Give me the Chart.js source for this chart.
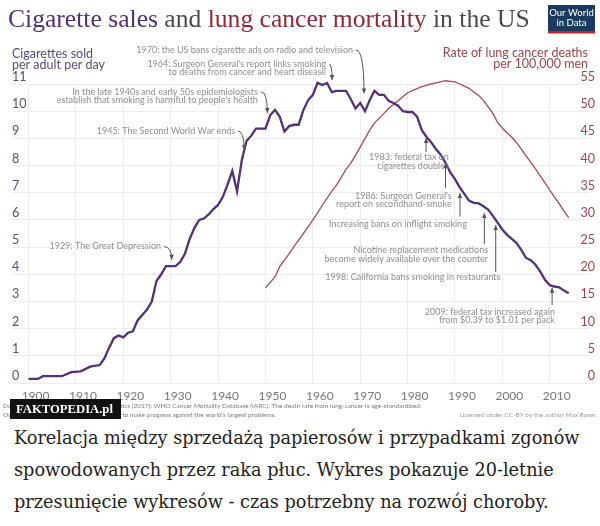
<!DOCTYPE html>
<html>
<head>
<meta charset="utf-8">
<script src="https://cdn.jsdelivr.net/npm/chart.js@4/dist/chart.umd.min.js"></script>
<style>
  body { margin: 0; background: #fff; width: 600px; height: 526px; overflow: hidden; }
  #wrap { position: relative; width: 600px; height: 422px; }
  #caption {
    margin: 0; padding: 0 0 0 14px;
    font-family: "DejaVu Serif", serif; font-size: 17.7px; line-height: 32px; color: #222;
  }
</style>
</head>
<body>
<div id="wrap"><canvas id="chart" width="600" height="422"></canvas></div>
<p id="caption">Korelacja między sprzedażą papierosów i przypadkami zgonów spowodowanych przez raka płuc. Wykres pokazuje 20-letnie przesunięcie wykresów - czas potrzebny na rozwój choroby.</p>

<script>
// cigarettes sold per adult per day (left axis)
var cigYears = [1900,1902,1903,1907,1909,1911,1913,1915,1916,1917,1918,1919,1920,1921,1922,1923,1924,1925,1926,1927,1928,1929,1930,1931,1932,1933,1934,1935,1936,1937,1938,1939,1940,1941,1942,1943,1944,1945,1946,1947,1948,1949,1950,1951,1952,1953,1954,1955,1956,1957,1958,1959,1960,1961,1962,1963,1964,1965,1966,1967,1968,1969,1970,1971,1972,1973,1974,1975,1976,1977,1978,1979,1980,1981,1982,1983,1984,1985,1986,1987,1988,1989,1990,1991,1992,1993,1994,1995,1996,1997,1998,1999,2000,2001,2002,2003,2004,2005,2006,2007,2008,2009,2010,2011,2012,2013,2014];
var cigs = [0.15,0.15,0.25,0.25,0.4,0.43,0.6,0.66,0.9,1.3,1.65,1.75,1.68,1.85,1.9,2.3,2.5,2.7,3.0,3.75,4.0,4.3,4.3,4.3,4.45,4.75,5.3,5.7,6.0,6.05,6.2,6.4,6.55,6.85,7.3,7.8,7.05,8.2,8.9,9.1,9.36,9.36,9.36,9.85,10.05,9.8,9.25,9.45,9.5,9.5,10.04,10.4,10.6,11.04,10.96,11.04,10.7,10.75,10.75,10.75,10.45,10.1,10.3,10.0,10.4,10.75,10.6,10.6,10.38,10.3,10.2,10.0,9.97,9.97,9.8,9.3,9.05,8.85,8.6,8.4,8.1,7.75,7.5,7.2,6.95,6.7,6.63,6.61,6.5,6.38,6.15,5.9,5.65,5.45,5.3,5.15,4.9,4.6,4.52,4.35,4.1,3.8,3.6,3.55,3.52,3.4,3.3];

// lung cancer deaths per 100,000 men (right axis)
var cancerYears = [1950,1952,1953,1955,1956,1958,1959,1961,1962,1964,1965,1967,1968,1970,1972,1973,1975,1976,1978,1980,1981,1983,1985,1986,1988,1989,1990,1991,1992,1993,1994,1995,1996,1997,1998,1999,2000,2001,2002,2003,2004,2005,2006,2007,2008,2009,2010,2011,2012,2013,2014];
var cancer = [17.5,19.5,21.4,23.8,25.1,27.5,28.7,31.3,32.7,35.3,36.4,39.3,40.4,43.4,46.5,47.8,49.6,50.5,51.9,53.4,53.8,54.5,55.0,55.2,55.6,55.5,55.4,55.0,54.6,54.2,53.5,52.9,52.0,50.8,49.6,47.9,46.9,46.0,45.2,44.2,43.0,41.8,40.6,39.4,38.1,36.8,35.5,34.2,33.0,31.6,30.4];

var xTicks = [1900,1910,1920,1930,1940,1950,1960,1970,1980,1990,2000,2010];
var leftTicks = [0,1,2,3,4,5,6,7,8,9,10,11];
var rightTicks = [0,5,10,15,20,25,30,35,40,45,50,55];

// annotation texts; text anchor (right end, first line) and arrow tail/tip in data units
var notes = [
  { lines: ["1970: the US bans cigarette ads on radio and television"], at: [1968.5, 12.25], tail: [1969.1, 12.25], tip: [1970.8, 10.65] },
  { lines: ["1964: Surgeon General's report links smoking", "to deaths from cancer and heart disease"], at: [1962.8, 11.75], tail: [1963.4, 11.74], tip: [1964.05, 11.15] },
  { lines: ["In the late 1940s and early 50s epidemiologists", "establish that smoking is harmful to people's health"], at: [1948.4, 10.71], tail: [1949.05, 10.71], tip: [1950.4, 9.93] },
  { lines: ["1945: The Second World War ends"], at: [1943.6, 9.27], tail: [1944.2, 9.27], tip: [1945.5, 8.57] },
  { lines: ["1929: The Great Depression"], at: [1927.95, 5.02], tail: [1928.6, 5.02], tip: [1930.2, 4.53] },
  { lines: ["1983: federal tax on", "cigarettes doubles"], at: [1988.7, 8.31], tail: [1983.9, 8.5], tip: [1983.9, 9.01] },
  { lines: ["1986: Surgeon General's", "report on secondhand-smoke"], at: [1989.3, 6.88], tail: [1988.0, 7.17], tip: [1988.0, 8.09] },
  { lines: ["Increasing bans on inflight smoking"], at: [1992.5, 5.84], tail: [1991.05, 6.12], tip: [1991.05, 6.99] },
  { lines: ["Nicotine replacement medications", "become widely available over the counter"], at: [1997.0, 4.89], tail: [1996.2, 5.11], tip: [1996.2, 6.25] },
  { lines: ["1998: California bans smoking in restaurants"], at: [1999.6, 3.91], tail: [1998.6, 4.08], tip: [1998.6, 5.81] },
  { lines: ["2009: federal tax increased again", "from $0.39 to $1.01 per pack"], at: [2011.1, 2.62], tail: [2010.5, 2.87], tip: [2010.5, 3.5] }
];

var purple = '#52307a';
var red = '#a84a54';

function arrow(ctx, x0, y0, x1, y1) {
  var cx = x1, cy = y0;
  var straight = Math.abs(x1 - x0) < 1;
  ctx.beginPath();
  ctx.moveTo(x0, y0);
  if (straight) ctx.lineTo(x1, y1);
  else ctx.quadraticCurveTo(cx, cy, x1, y1);
  ctx.stroke();
  var fx = straight ? x0 : cx, fy = straight ? y0 : cy;
  var a = Math.atan2(y1 - fy, x1 - fx);
  ctx.beginPath();
  ctx.moveTo(x1, y1);
  ctx.lineTo(x1 - 5 * Math.cos(a) + 2.3 * Math.sin(a), y1 - 5 * Math.sin(a) - 2.3 * Math.cos(a));
  ctx.lineTo(x1 - 5 * Math.cos(a) - 2.3 * Math.sin(a), y1 - 5 * Math.sin(a) + 2.3 * Math.cos(a));
  ctx.closePath();
  ctx.fill();
}

var extras = {
  id: 'extras',
  afterDraw: function(chart) {
    var ctx = chart.ctx;
    var sx = chart.scales.x, sy = chart.scales.y;
    ctx.save();

    // title, fitted to its width
    var parts = [["Cigarette sales ", purple], ["and ", '#4a4a4a'], ["lung cancer mortality ", '#8e2a36'], ["in the US", '#4a4a4a']];
    var size = 26;
    ctx.font = size + 'px "Liberation Serif"';
    var w = 0;
    parts.forEach(function(p) { w += ctx.measureText(p[0]).width; });
    size = size * 522 / w;
    ctx.font = size + 'px "Liberation Serif"';
    ctx.textBaseline = 'alphabetic';
    ctx.textAlign = 'left';
    var x = 8;
    parts.forEach(function(p) {
      ctx.fillStyle = p[1];
      ctx.fillText(p[0], x, 27);
      x += ctx.measureText(p[0]).width;
    });

    // OWID logo
    ctx.fillStyle = '#1b3a5f';
    ctx.fillRect(548, 5, 47, 28);
    ctx.fillStyle = '#c8202e';
    ctx.fillRect(548, 31, 47, 2.5);
    ctx.fillStyle = '#fff';
    ctx.font = '9.5px Lato';
    ctx.textAlign = 'center';
    ctx.textBaseline = 'middle';
    ctx.fillText('Our World', 571.5, 13);
    ctx.fillText('in Data', 571.5, 23);

    // axis titles
    ctx.font = '12.5px Lato';
    ctx.textAlign = 'left';
    ctx.fillStyle = '#5d4a78';
    ctx.fillText('Cigarettes sold', 12, 53.5);
    ctx.fillText('per adult per day', 12, 65);
    ctx.textAlign = 'right';
    ctx.fillStyle = '#a2434d';
    ctx.fillText('Rate of lung cancer deaths', 588, 53);
    ctx.fillText('per 100,000 men', 588, 63.5);

    // annotations
    ctx.font = '9px Lato';
    notes.forEach(function(n) {
      var ax = sx.getPixelForValue(n.at[0]), ay = sy.getPixelForValue(n.at[1]);
      ctx.fillStyle = '#8d8d8d';
      ctx.textAlign = 'right';
      n.lines.forEach(function(t, i) { ctx.fillText(t, ax, ay + i * 8.6); });
      ctx.strokeStyle = '#555';
      ctx.fillStyle = '#555';
      ctx.lineWidth = 1;
      arrow(ctx, sx.getPixelForValue(n.tail[0]), sy.getPixelForValue(n.tail[1]),
                 sx.getPixelForValue(n.tip[0]), sy.getPixelForValue(n.tip[1]));
    });

    // footer
    ctx.font = '6.5px Lato';
    ctx.fillStyle = '#7a7a7a';
    ctx.textAlign = 'left';
    ctx.fillText('Data source: International Smoking Statistics (2017); WHO Cancer Mortality Database (IARC). The death rate from lung-cancer is age-standardized.', 3, 406);
    ctx.fillText('OurWorldInData.org \u2013 Research and data to make progress against the world\u2019s largest problems.', 3, 414.5);
    ctx.fillStyle = '#999';
    ctx.textAlign = 'right';
    ctx.fillText('Licensed under CC-BY by the author Max Roser.', 597, 414.5);

    // watermark badge
    ctx.fillStyle = '#111';
    ctx.fillRect(10, 399, 111, 20);
    ctx.fillStyle = '#fff';
    var bs = 15;
    ctx.font = 'bold ' + bs + 'px "Liberation Serif"';
    bs = bs * 97 / ctx.measureText('FAKTOPEDIA.pl').width;
    ctx.font = 'bold ' + bs + 'px "Liberation Serif"';
    ctx.textAlign = 'left';
    ctx.fillText('FAKTOPEDIA.pl', 16, 410);

    ctx.restore();
  }
};

new Chart(document.getElementById('chart'), {
  type: 'line',
  data: {
    datasets: [{
      label: 'Cigarettes sold per adult per day',
      data: cigYears.map(function(y, i) { return { x: y, y: cigs[i] }; }),
      borderColor: purple,
      borderWidth: 2.3,
      pointRadius: 0,
      yAxisID: 'y',
      clip: false
    }, {
      label: 'Rate of lung cancer deaths per 100,000 men',
      data: cancerYears.map(function(y, i) { return { x: y, y: cancer[i] }; }),
      borderColor: red,
      borderWidth: 1.3,
      pointRadius: 0,
      yAxisID: 'y1',
      clip: false
    }]
  },
  options: {
    responsive: false,
    animation: false,
    layout: { padding: { top: 84, left: 12, right: 10, bottom: 0 } },
    plugins: { legend: { display: false }, tooltip: { enabled: false } },
    scales: {
      x: {
        type: 'linear',
        min: 1896.5,
        max: 2018.5,
        afterBuildTicks: function(s) { s.ticks = xTicks.map(function(v) { return { value: v }; }); },
        afterFit: function(s) { s.height = 39; },
        grid: { color: '#ededed', drawTicks: false },
        border: { display: false },
        ticks: {
          callback: function(v) { return String(v); },
          font: { family: 'Lato', size: 12 },
          color: '#777',
          labelOffset: 7,
          padding: 6,
          maxRotation: 0,
          autoSkip: false
        }
      },
      y: {
        position: 'left',
        min: 0,
        max: 11,
        afterBuildTicks: function(s) { s.ticks = leftTicks.map(function(v) { return { value: v }; }); },
        afterFit: function(s) { s.width = 0; },
        grid: { color: '#ededed', drawTicks: false },
        border: { display: false },
        ticks: {
          mirror: true,
          padding: 0,
          labelOffset: -7,
          font: { family: 'Lato', size: 12.5 },
          color: '#5d4a78'
        }
      },
      y1: {
        position: 'right',
        min: 0,
        max: 55,
        afterBuildTicks: function(s) { s.ticks = rightTicks.map(function(v) { return { value: v }; }); },
        afterFit: function(s) { s.width = 0; },
        grid: { display: false },
        border: { display: false },
        ticks: {
          mirror: true,
          padding: 5,
          labelOffset: -7,
          font: { family: 'Lato', size: 12.5 },
          color: '#a2434d'
        }
      }
    }
  },
  plugins: [extras]
});
</script>
</body>
</html>
